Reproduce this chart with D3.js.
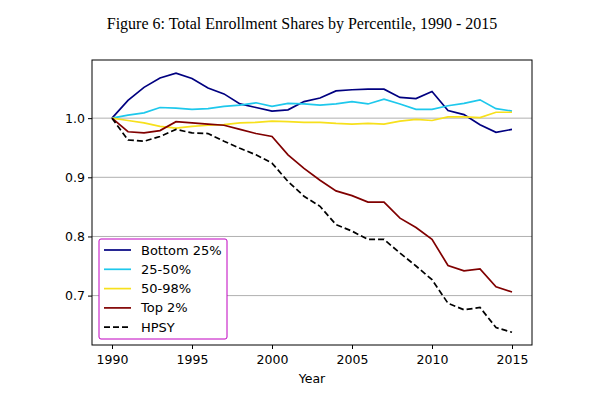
<!DOCTYPE html>
<html>
<head>
<meta charset="utf-8">
<title>Total Enrollment Shares by Percentile</title>
<script src="https://cdn.jsdelivr.net/npm/d3@7"></script>
<style>
  body { margin: 0; background: #fff; }
  svg text { font-family: "DejaVu Sans", sans-serif; }
  .title { font-family: "Liberation Serif", "DejaVu Serif", serif !important; }
</style>
</head>
<body>
<div id="chart"></div>
<script>
// data
const years = d3.range(1990, 2016);

const bottom25 = [1.000, 1.030, 1.052, 1.068, 1.076, 1.067, 1.051, 1.041, 1.024, 1.018,
                  1.012, 1.014, 1.028, 1.034, 1.046, 1.048, 1.049, 1.049, 1.035, 1.033,
                  1.045, 1.013, 1.006, 0.989, 0.976, 0.981];
const p25to50 = [1.000, 1.005, 1.009, 1.018, 1.017, 1.015, 1.016, 1.020, 1.022, 1.026,
                 1.020, 1.025, 1.024, 1.022, 1.024, 1.028, 1.024, 1.032, 1.024, 1.015,
                 1.015, 1.021, 1.025, 1.031, 1.016, 1.012];
const p50to98 = [1.000, 0.996, 0.992, 0.986, 0.983, 0.986, 0.988, 0.989, 0.992, 0.993,
                 0.995, 0.994, 0.993, 0.993, 0.991, 0.990, 0.991, 0.990, 0.995, 0.998,
                 0.996, 1.002, 1.002, 1.001, 1.010, 1.010];
const top2 = [1.000, 0.977, 0.975, 0.979, 0.994, 0.992, 0.990, 0.988, 0.981, 0.974,
              0.969, 0.938, 0.915, 0.895, 0.877, 0.869, 0.858, 0.858, 0.831, 0.815,
              0.795, 0.751, 0.742, 0.745, 0.715, 0.706];
const hpsy = [1.000, 0.963, 0.961, 0.969, 0.981, 0.975, 0.974, 0.961, 0.949, 0.938,
              0.924, 0.893, 0.868, 0.851, 0.820, 0.809, 0.795, 0.795, 0.772, 0.750,
              0.727, 0.687, 0.676, 0.680, 0.646, 0.638];

const seriesNames = ["Bottom 25%", "25-50%", "50-98%", "Top 2%", "HPSY"];
const seriesValues = [bottom25, p25to50, p50to98, top2, hpsy];
const seriesColors = ["#000080", "#1ec8ec", "#f7e01c", "#800000", "#000000"];

const xTicks = [1990, 1995, 2000, 2005, 2010, 2015];
const yTicks = [0.7, 0.8, 0.9, 1.0];

const w = 600, h = 395;
const margin = { top: 60, right: 68, bottom: 50, left: 92 };
const width = w - margin.left - margin.right,
      height = h - margin.top - margin.bottom;

const svg = d3.select("#chart").append("svg")
    .attr("width", w)
    .attr("height", h);

svg.append("text")
    .attr("class", "title")
    .attr("x", 302)
    .attr("y", 29)
    .attr("text-anchor", "middle")
    .style("font-size", "16px")
    .text("Figure 6: Total Enrollment Shares by Percentile, 1990 - 2015");

const g = svg.append("g")
    .attr("transform", "translate(" + margin.left + "," + margin.top + ")");

// matplotlib style 5% padding
const x = d3.scaleLinear().domain([1988.75, 2016.25]).range([0, width]);
const y = d3.scaleLinear().domain([0.6165, 1.0983]).range([height, 0]);

// grid
g.selectAll(".grid")
    .data(yTicks).enter()
    .append("line")
    .attr("x1", 0).attr("x2", width)
    .attr("y1", d => y(d)).attr("y2", d => y(d))
    .attr("stroke", "#b0b0b0")
    .attr("stroke-width", 1);

const line = d3.line()
    .x((d, i) => x(years[i]))
    .y(d => y(d));

g.selectAll(".series")
    .data(seriesValues).enter()
    .append("path")
    .attr("d", line)
    .attr("fill", "none")
    .attr("stroke", (d, i) => seriesColors[i])
    .attr("stroke-width", 1.7)
    .attr("stroke-dasharray", (d, i) => i == 4 ? "6,3" : null);

// frame
g.append("rect")
    .attr("width", width).attr("height", height)
    .attr("fill", "none").attr("stroke", "#000").attr("stroke-width", 1);

const xAxis = d3.axisBottom(x).tickValues(xTicks).tickFormat(d3.format("d")).tickSizeOuter(0).tickSize(4);
const yAxis = d3.axisLeft(y).tickValues(yTicks).tickFormat(d3.format(".1f")).tickSizeOuter(0).tickSize(4);

g.append("g")
    .attr("class", "x axis")
    .attr("transform", "translate(0," + height + ")")
    .call(xAxis)
    .call(a => a.select(".domain").remove())
    .selectAll("text").style("font-size", "12.5px").attr("dy", "0.95em").attr("fill", "#000");

g.append("g")
    .attr("class", "y axis")
    .call(yAxis)
    .call(a => a.select(".domain").remove())
    .selectAll("text").style("font-size", "12.5px").attr("fill", "#000");

svg.append("text")
    .attr("x", margin.left + width / 2)
    .attr("y", 383)
    .attr("text-anchor", "middle")
    .style("font-size", "12.5px")
    .text("Year");

// legend
const lg = svg.append("g").attr("transform", "translate(99,239)");
lg.append("rect")
    .attr("width", 128).attr("height", 100)
    .attr("rx", 2)
    .attr("fill", "#fff")
    .attr("stroke", "#c000c0")
    .attr("stroke-width", 1);

const items = lg.selectAll(".item")
    .data(seriesNames).enter()
    .append("g")
    .attr("transform", (d, i) => "translate(0," + (11 + i * 19.3) + ")");

items.append("line")
    .attr("x1", 5).attr("x2", 32)
    .attr("stroke", (d, i) => seriesColors[i])
    .attr("stroke-width", 1.7)
    .attr("stroke-dasharray", (d, i) => i == 4 ? "6,3" : null);

items.append("text")
    .attr("x", 42)
    .attr("dy", "0.35em")
    .style("font-size", "13px")
    .text(d => d);
</script>
</body>
</html>
